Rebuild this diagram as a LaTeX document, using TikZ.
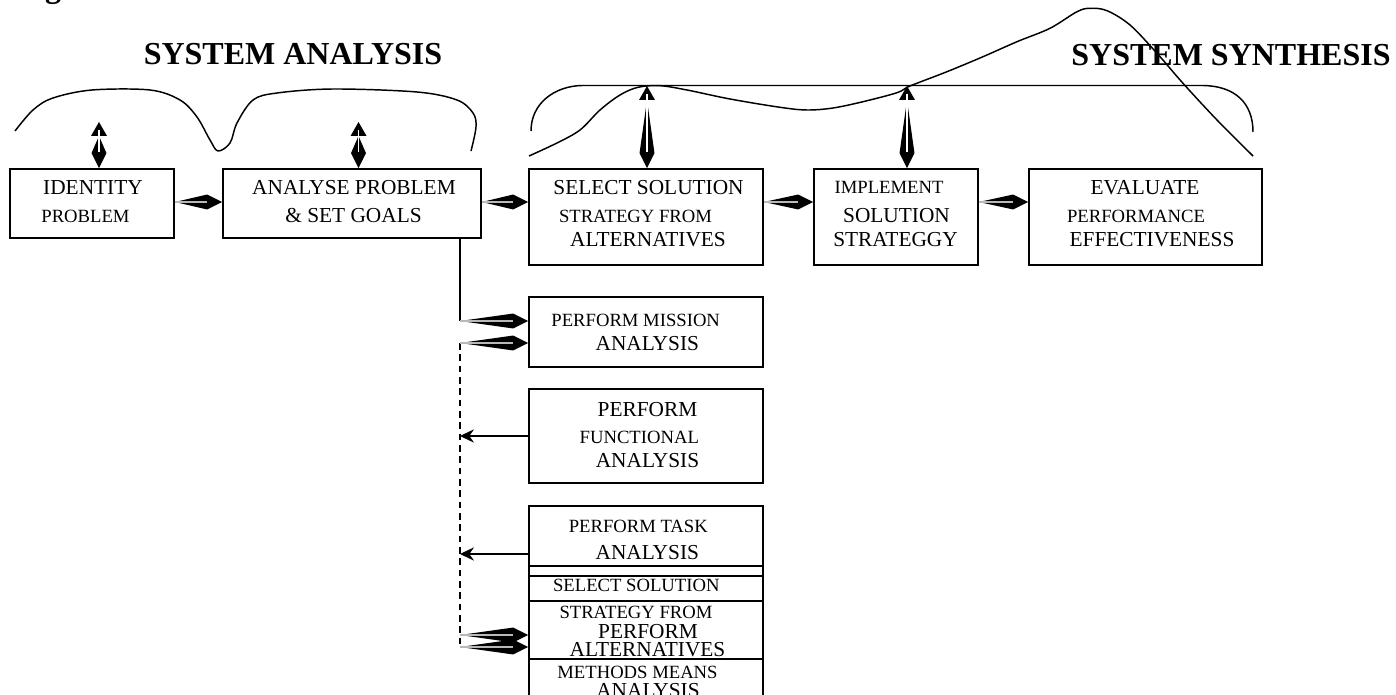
\documentclass[tikz,border=0pt]{standalone}
\usepackage{fontspec}
\setmainfont{Liberation Serif}
\usetikzlibrary{calc,fit,arrows.meta}
\tikzset{
  box/.style={draw, line width=1.35pt, inner sep=0pt},
  lbl/.style={inner sep=0pt, anchor=base},
  big/.style={lbl, font=\fontsize{16}{18}\selectfont},
  sml/.style={lbl, font=\fontsize{14}{16}\selectfont},
  ttl/.style={lbl, font=\fontsize{24}{28}\selectfont\bfseries},
  curve/.style={line width=1.1pt, line join=round},
  conn/.style={line width=0.9pt},
  dashconn/.style={conn, dash pattern=on 5pt off 3.5pt},
  kitefill/.style={fill=black},
  inline/.style={draw=gray!55, line width=0.9pt},
  wline/.style={draw=white, line width=0.9pt},
  backtip/.style={-{Stealth[length=10.5pt,width=10pt,inset=3.5pt]}},
}
% kite connector: #1 back end, #2 tip
\newcommand\kconn[2]{%
  \fill[kitefill] (#1) -- ($(#2)!11.25pt!(#1)!5.6pt!90:(#2)$) -- (#2) -- ($(#2)!11.25pt!(#1)!5.6pt!-90:(#2)$) -- cycle;
  \draw[inline] (#1) -- ($(#2)!11.25pt!(#1)$);
}
% double connector: #1 kite tip (at box), #2 triangle tip (top)
\newcommand\dconn[2]{%
  \fill[kitefill] (#2) -- ($(#2)!10.5pt!(#1)!6pt!90:(#2)$) -- ($(#2)!10.5pt!(#1)!6pt!-90:(#2)$) -- cycle;
  \fill[kitefill] ($(#2)!10.5pt!(#1)$) -- ($(#1)!11.25pt!(#2)!5.6pt!90:(#1)$) -- (#1) -- ($(#1)!11.25pt!(#2)!5.6pt!-90:(#1)$) -- cycle;
  \draw[wline] ($(#2)!6pt!(#1)$) -- ($(#1)!12pt!(#2)$);
}
\begin{document}
\begin{tikzpicture}[x=0.75pt, y=-0.75pt]
\useasboundingbox (0,0) rectangle (1396,695);
\clip (0,0) rectangle (1396,695);

% clipped fragment of a caption above
\node[ttl] (gfrag) at (53,-2) {g};

% titles
\node[ttl] (tana) at (293,65) {SYSTEM ANALYSIS};
\node[ttl] (tsyn) at (1231,66) {SYSTEM SYNTHESIS};

% top row boxes
\node[box, fit={(10,169) (174,238)}] (b1) {};
\node[box, fit={(223,169) (481,238)}] (b2) {};
\node[box, fit={(529,169) (763,265)}] (b3) {};
\node[box, fit={(814,169) (978,265)}] (b4) {};
\node[box, fit={(1029,169) (1262,265)}] (b5) {};

\node[big] (b1a) at (93,195) {IDENTITY};
\node[sml] (b1b) at (85.5,223) {PROBLEM};
\node[big] (b2a) at (354,195) {ANALYSE PROBLEM};
\node[big] (b2b) at (353.5,223) {\& SET GOALS};
\node[big] (b3a) at (648.5,195) {SELECT SOLUTION};
\node[sml] (b3b) at (635.5,223) {STRATEGY FROM};
\node[big] (b3c) at (648,247) {ALTERNATIVES};
\node[sml] (b4a) at (889,194) {IMPLEMENT};
\node[big] (b4b) at (896.5,223) {SOLUTION};
\node[big] (b4c) at (895.5,247) {STRATEGGY};
\node[big] (b5a) at (1145,195) {EVALUATE};
\node[sml] (b5b) at (1136,223) {PERFORMANCE};
\node[big] (b5c) at (1152,247) {EFFECTIVENESS};

% lower column boxes
\node[box, fit={(529,297) (763,367)}] (m) {};
\node[box, fit={(529,389) (763,483)}] (f) {};
\node[box, fit={(529,506) (763,566)}] (t) {};
\node[box, fit={(529,566) (763,576)}] (s0) {};
\node[box, fit={(529,576) (763,601)}] (s1) {};
\node[box, fit={(529,601) (763,659)}] (s2) {};
\node[box, fit={(529,659) (763,720)}] (s3) {};

\node[sml] (ma) at (635.7,326) {PERFORM MISSION};
\node[big] (mb) at (647.3,350.7) {ANALYSIS};
\node[big] (fa) at (647.5,416) {PERFORM};
\node[sml] (fb) at (639.3,443) {FUNCTIONAL};
\node[big] (fc) at (647.5,467) {ANALYSIS};
\node[sml] (ta) at (638.3,532.7) {PERFORM TASK};
\node[big] (tb) at (647.3,559.3) {ANALYSIS};
\node[sml] (s1a) at (636.3,591.7) {SELECT SOLUTION};
\node[sml] (s2a) at (636,618) {STRATEGY FROM};
\node[big] (s2b) at (648,638.3) {PERFORM};
\node[big] (s2c) at (647.5,656.7) {ALTERNATIVES};
\node[sml] (s3a) at (637.5,678.3) {METHODS MEANS};
\node[big] (s3b) at (648,697) {ANALYSIS};

% curves
\draw[curve] plot[smooth, tension=0.55] coordinates {(15,131) (33,110) (53,98) (92,90) (150,90) (180,100) (197,117) (210,140) (218,151) (230,143) (237,123) (253,100) (277,93) (333,89) (417,92) (457,100) (473,113) (476,127) (471,151)};
\draw[curve] (531,131) .. controls (531,103) and (555,86) .. (582,85.5) -- (1203,85.5) .. controls (1235,86) and (1253,103) .. (1253,132);
\draw[curve] plot[smooth, tension=0.55] coordinates {(529,156) (557,143) (580,130) (600,110) (620,95) (638,87.3) (660,85.7) (687,90) (730,99) (780,107.3) (807,110) (833,108) (863,101.7) (897,92.7) (910,86) (947,71.7) (983,56.7) (1017,41.7) (1050,28.3) (1077,11.7) (1090,8.3) (1107,10.7) (1130,25) (1157,53.3) (1183,83.3) (1217,120) (1253,156)};

% vertical double connectors
\coordinate (u1) at (99,122);
\coordinate (u2) at (358.5,122);
\coordinate (u3) at (647,86);
\coordinate (u4) at (907,86);
\dconn{b1.north -| u1}{u1}
\dconn{b2.north -| u2}{u2}
\dconn{b3.north -| u3}{u3}
\dconn{b4.north -| u4}{u4}

% horizontal connectors
\coordinate (hr) at (0,202);
\kconn{b1.east |- hr}{b2.west |- hr}
\kconn{b2.east |- hr}{b3.west |- hr}
\kconn{b3.east |- hr}{b4.west |- hr}
\kconn{b4.east |- hr}{b5.west |- hr}

% analysis column
\coordinate (vx) at (460,0);
\coordinate (m1) at (460,321);
\coordinate (m2) at (460,343);
\coordinate (dend) at (460,647);
\coordinate (tr) at (0,554);
\coordinate (l1) at (460,635);
\coordinate (l2) at (460,647);
\draw[conn] (b2.south -| vx) -- (m1);
\draw[dashconn] (m2) -- (dend);
\kconn{m1}{m.west |- m1}
\kconn{m2}{m.west |- m2}
\draw[conn, backtip] (f.west) -- (f.west -| vx);
\draw[conn, backtip] (t.west |- tr) -- (vx |- tr);
\kconn{l1}{s2.west |- l1}
\kconn{l2}{s2.west |- l2}
\end{tikzpicture}
\end{document}
